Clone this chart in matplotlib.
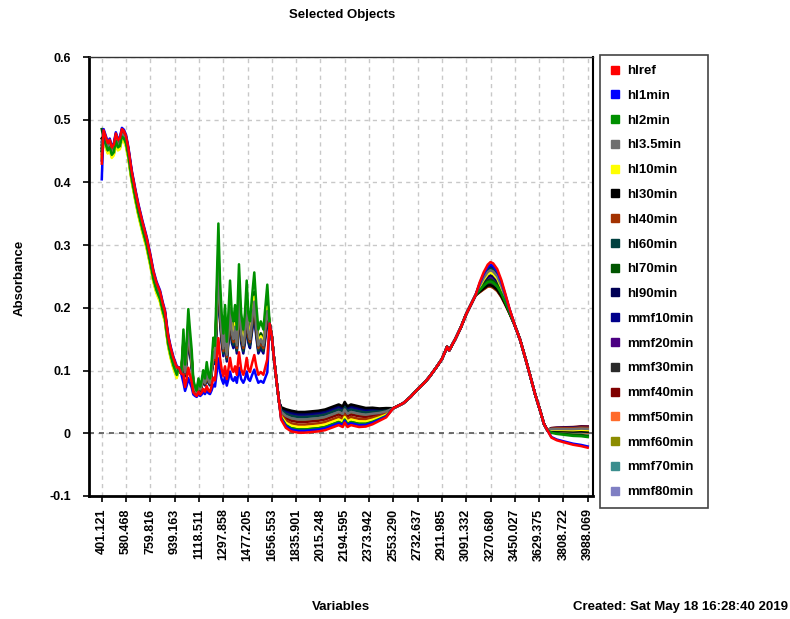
"""
Absorbance spectra of the selected objects (hl / mmf time series), drawn
against the variable index (wavenumber) with a side legend.
"""

import matplotlib

matplotlib.use("Agg")
import matplotlib.pyplot as plt
import numpy as np
from matplotlib.lines import Line2D

plt.rcParams["font.family"] = ["Liberation Sans", "DejaVu Sans"]
plt.rcParams["font.weight"] = "bold"

# ---- series ---------------------------------------------------------------
series_names = [
    "hlref", "hl1min", "hl2min", "hl3.5min", "hl10min", "hl30min",
    "hl40min", "hl60min", "hl70min", "hl90min", "mmf10min", "mmf20min",
    "mmf30min", "mmf40min", "mmf50min", "mmf60min", "mmf70min", "mmf80min",
]
series_colors = [
    "#FF0000", "#0000FF", "#009000", "#6E6E6E", "#FFFF00", "#000000",
    "#A33200", "#00403F", "#005500", "#000055", "#00008B", "#4B0082",
    "#2A2A2A", "#800000", "#FF6B2B", "#8C8C00", "#3B8E8E", "#7F7FC3",
]

# per-series readings
start_abs = [0.43, 0.405, 0.45, 0.46, 0.44, 0.47, 0.445, 0.455, 0.485,
             0.465, 0.435, 0.45, 0.46, 0.44, 0.47, 0.455, 0.45, 0.46]
band_shift = [0.008, 0.01, -0.004, 0.0, -0.009, -0.002, 0.004, 0.002, -0.006,
              0.003, 0.006, 0.007, -0.003, 0.005, -0.005, -0.007, 0.001, -0.001]
fp_gain = [0.45, 0.3, 1.3, 1.0, 1.05, 1.0, 0.95, 0.9, 1.1,
           0.92, 0.85, 1.05, 1.06, 0.97, 1.03, 0.98, 0.94, 1.0]
plateau_shift = [-0.017, -0.014, -0.012, 0.004, -0.008, 0.016, -0.004, 0.008, -0.01,
                 0.014, 0.012, 0.01, 0.013, 0.0, -0.006, 0.002, 0.006, 0.009]
peak_shift = [0.021, 0.017, -0.01, 0.008, 0.004, -0.016, -0.018, 0.011, -0.007,
              0.0, 0.014, -0.004, -0.013, -0.017, 0.006, -0.002, 0.002, -0.009]
tail_shift = [-0.022, -0.02, -0.005, 0.008, 0.006, 0.004, 0.01, 0.003, -0.003,
              0.007, 0.011, 0.005, 0.009, 0.012, 0.002, 0.01, 0.001, 0.006]

# ---- shared spectrum, by region -------------------------------------------
band_wn = [415, 430, 445, 460, 475, 490, 505, 520, 535, 550, 565, 580, 597,
           622, 650, 671, 700, 733, 760, 782, 805, 831, 850, 868, 880, 893,
           910, 930, 955]
band_abs = [0.475, 0.465, 0.455, 0.46, 0.448, 0.452, 0.47, 0.46, 0.462, 0.477,
            0.474, 0.466, 0.447, 0.41, 0.378, 0.356, 0.33, 0.303, 0.275, 0.25,
            0.232, 0.218, 0.2, 0.186, 0.165, 0.145, 0.128, 0.112, 0.097]

link1_wn = [970, 988]
link1_abs = [0.105, 0.095]

FP_FLOOR = 0.055
fp_wn = [1004, 1016, 1028, 1040, 1052, 1065, 1077, 1090, 1102, 1115, 1128,
         1139, 1150, 1163, 1176, 1188, 1200, 1212, 1225, 1237, 1250, 1262,
         1274, 1286, 1299, 1311, 1324, 1336, 1348, 1361, 1373, 1385, 1398,
         1414, 1430, 1446, 1458, 1471, 1483, 1495, 1510, 1527, 1542, 1557,
         1575, 1594, 1610, 1623]
fp_abs = [0.14, 0.097, 0.125, 0.165, 0.14, 0.115, 0.078, 0.07, 0.065, 0.08, 0.07,
          0.078, 0.09, 0.08, 0.1, 0.085, 0.08, 0.1, 0.13, 0.12, 0.2, 0.27,
          0.2, 0.16, 0.135, 0.17, 0.125, 0.16, 0.2, 0.16, 0.15, 0.17, 0.14,
          0.22, 0.16, 0.14, 0.16, 0.2, 0.16, 0.15, 0.18, 0.21, 0.17, 0.14,
          0.15, 0.14, 0.17, 0.195]

link2_wn = [1640, 1656, 1672, 1693, 1710]
link2_abs = [0.175, 0.155, 0.12, 0.08, 0.05]

plateau_wn = [1725, 1760, 1800, 1850, 1900, 1950, 2000, 2050, 2100, 2150,
              2180, 2194, 2215, 2240, 2300, 2350, 2400, 2450, 2500]
plateau_abs = [0.032, 0.024, 0.02, 0.018, 0.018, 0.019, 0.02, 0.022, 0.026,
               0.03, 0.027, 0.034, 0.027, 0.03, 0.027, 0.026, 0.028, 0.03, 0.033]
plateau_weight = [0.6, 0.9, 1.0, 1.0, 1.0, 1.0, 1.0, 1.0, 1.0, 1.0,
                  1.0, 1.0, 1.0, 1.0, 1.0, 0.9, 0.8, 0.6, 0.45]

rise_wn = [2553, 2627, 2680, 2732, 2780, 2820, 2870, 2911, 2935, 2950, 2965,
           2985, 3010, 3050, 3091, 3130, 3160]
rise_abs = [0.04, 0.048, 0.058, 0.07, 0.08, 0.09, 0.105, 0.118, 0.13, 0.138,
            0.132, 0.14, 0.15, 0.168, 0.19, 0.207, 0.22]

peak_wn = [3190, 3220, 3250, 3270, 3290, 3320, 3350, 3380, 3410]
peak_abs = [0.232, 0.242, 0.25, 0.252, 0.25, 0.243, 0.23, 0.213, 0.195]
peak_weight = [0.4, 0.7, 0.9, 1.0, 1.0, 0.9, 0.7, 0.45, 0.2]

fall_wn = [3450, 3489, 3530, 3563, 3600, 3637, 3665, 3690]
fall_abs = [0.172, 0.149, 0.118, 0.092, 0.062, 0.036, 0.015, 0.005]

tail_wn = [3720, 3760, 3820, 3880, 3940, 3988.069]
tail_abs = [0.003, 0.002, 0.001, 0.0, 0.0, -0.001]
tail_weight = [0.45, 0.6, 0.72, 0.83, 0.93, 1.0]

x_tick_labels = [
    "401.121", "580.468", "759.816", "939.163", "1118.511", "1297.858",
    "1477.205", "1656.553", "1835.901", "2015.248", "2194.595", "2373.942",
    "2553.290", "2732.637", "2911.985", "3091.332", "3270.680", "3450.027",
    "3629.375", "3808.722", "3988.069",
]
y_ticks = [-0.1, 0.0, 0.1, 0.2, 0.3, 0.4, 0.5, 0.6]
y_tick_labels = ["-0.1", "0", "0.1", "0.2", "0.3", "0.4", "0.5", "0.6"]


def series_curve(i):
    wn = np.concatenate([[401.121], band_wn, link1_wn, fp_wn, link2_wn,
                         plateau_wn, rise_wn, peak_wn, fall_wn, tail_wn])
    ab = np.concatenate([
        [start_abs[i]],
        np.array(band_abs) + band_shift[i],
        link1_abs,
        FP_FLOOR + fp_gain[i] * (np.array(fp_abs) - FP_FLOOR),
        link2_abs,
        np.array(plateau_abs) + plateau_shift[i] * np.array(plateau_weight),
        rise_abs,
        np.array(peak_abs) + peak_shift[i] * np.array(peak_weight),
        fall_abs,
        np.array(tail_abs) + tail_shift[i] * np.array(tail_weight),
    ])
    return wn, ab


fig = plt.figure(figsize=(7.9, 6.19), dpi=100)
ax = fig.add_axes([89 / 790, 1 - 496 / 619, 504 / 790, 439 / 619])

# draw last series first so the reference sits on top
for i in reversed(range(len(series_names))):
    wn, ab = series_curve(i)
    ax.plot(wn, ab, color=series_colors[i], linewidth=1.8, zorder=3)

x_ticks = [float(t) for t in x_tick_labels]
ax.set_xlim(307, 4027)
ax.set_ylim(-0.1, 0.6)
ax.set_xticks(x_ticks)
ax.set_xticklabels(x_tick_labels, rotation=90, fontsize=9, fontweight="bold")
ax.set_yticks(y_ticks)
ax.set_yticklabels(y_tick_labels, fontsize=9, fontweight="bold")
ax.tick_params(axis="x", length=4, width=1.2, pad=5)
ax.tick_params(axis="y", length=4, width=1.2, pad=9)

ax.grid(True, color="#C8C8C8", linestyle=(0, (3, 3)), linewidth=1.0, zorder=0)
ax.axhline(0.0, color="#555555", linestyle=(0, (3, 3)), linewidth=1.2, zorder=2)

for side in ("left", "bottom"):
    ax.spines[side].set_linewidth(2.0)
    ax.spines[side].set_color("black")
ax.spines["right"].set_linewidth(1.5)
ax.spines["top"].set_linewidth(1.0)
ax.spines["top"].set_color("#333333")

fig.text(342 / 790, 1 - 15 / 619, "Selected Objects", ha="center", va="center",
         fontsize=9.5, fontweight="bold")
fig.text(341 / 790, 1 - 607 / 619, "Variables", ha="center", va="center",
         fontsize=9.5, fontweight="bold")
fig.text(20 / 790, 1 - 278 / 619, "Absorbance", ha="center", va="center",
         rotation=90, fontsize=9.5, fontweight="bold")
fig.text(788 / 790, 1 - 607 / 619, "Created: Sat May 18 16:28:40 2019",
         ha="right", va="center", fontsize=9.5, fontweight="bold")

handles = [
    Line2D([], [], marker="s", linestyle="", markersize=6,
           markerfacecolor=c, markeredgecolor=c)
    for c in series_colors
]
leg = fig.legend(
    handles, series_names,
    loc="upper left",
    bbox_to_anchor=(600 / 790, 1 - 507 / 619, 108 / 790, 452 / 619),
    mode="expand",
    borderaxespad=0.0,
    fontsize=9.5,
    handlelength=0.8,
    handletextpad=0.5,
    labelspacing=0.95,
    borderpad=0.75,
    fancybox=False,
    framealpha=1.0,
    edgecolor="#444444",
)
leg.get_frame().set_linewidth(1.2)
for t in leg.get_texts():
    t.set_fontweight("bold")

fig.savefig("out.png", dpi=100)
